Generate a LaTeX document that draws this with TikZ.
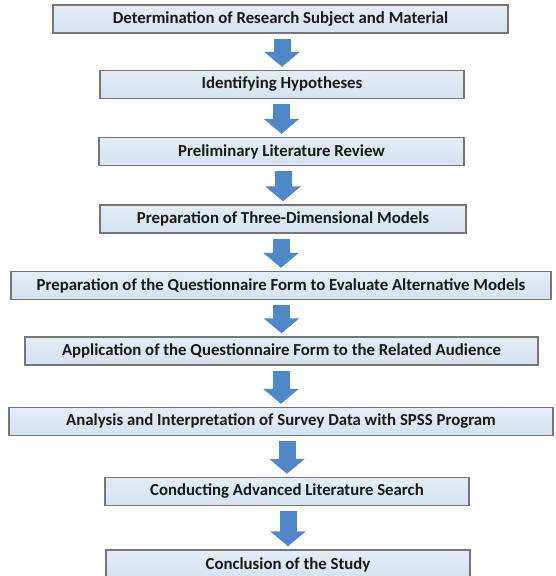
\documentclass[tikz,border=0pt]{standalone}
\usepackage{fontspec}
\setmainfont{Carlito}
\usetikzlibrary{arrows.meta,calc}
\definecolor{boxtop}{RGB}{228,236,246}
\definecolor{boxbot}{RGB}{213,226,241}
\definecolor{boxline}{RGB}{118,118,118}
\definecolor{arrowblue}{RGB}{79,136,200}
\definecolor{txt}{RGB}{25,25,25}
\tikzset{
  stepbox/.style={draw=boxline, line width=1.4pt, top color=boxtop, bottom color=boxbot,
    minimum height=28pt, inner sep=0pt, font=\bfseries\fontsize{16.8}{19}\selectfont, text=txt},
  blockarrow/.style={draw=arrowblue, line width=17pt,
    -{Triangle[width=35pt,length=15pt,fill=arrowblue]}}
}
\begin{document}
\begin{tikzpicture}[x=1pt,y=-1pt]
\useasboundingbox (0,0) rectangle (555,576);
\fill[white] (0,0) rectangle (555,576);
\clip (0,0) rectangle (555,576);
\node[stepbox, minimum width=455pt] (b1) at (280.5,19) {Determination of Research Subject and Material};
\node[stepbox, minimum width=364pt] (b2) at (282,84.5) {Identifying Hypotheses};
\node[stepbox, minimum width=365pt] (b3) at (281.5,151.5) {Preliminary Literature Review};
\node[stepbox, minimum width=366pt] (b4) at (283,219) {Preparation of Three-Dimensional Models};
\node[stepbox, minimum width=540pt] (b5) at (281,285.5) {Preparation of the Questionnaire Form to Evaluate Alternative Models};
\node[stepbox, minimum width=513pt] (b6) at (281.5,351) {Application of the Questionnaire Form to the Related Audience};
\node[stepbox, minimum width=544pt] (b7) at (281,421.5) {Analysis and Interpretation of Survey Data with SPSS Program};
\node[stepbox, minimum width=364pt] (b8) at (287,491.5) {Conducting Advanced Literature Search};
\node[stepbox, minimum width=364pt, minimum height=30pt] (b9) at (288,565) {Conclusion of the Study};
\foreach \a/\b in {b1/b2,b2/b3,b3/b4,b4/b5,b5/b6,b6/b7,b7/b8,b8/b9}{
  \draw[blockarrow] ($(\b.north |- \a.south)+(0,5)$) -- ($(\b.north)+(0,-3)$);
}
\end{tikzpicture}
\end{document}
